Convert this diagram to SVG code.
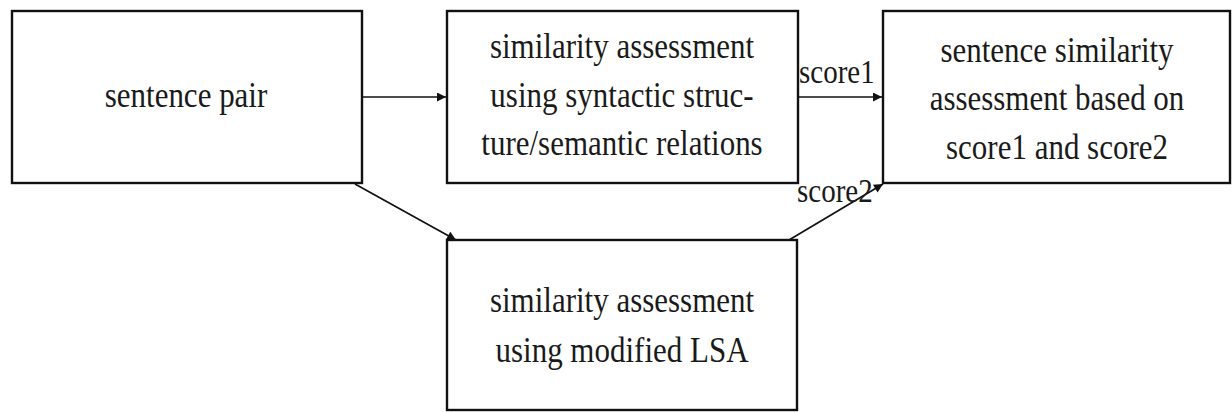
<svg xmlns="http://www.w3.org/2000/svg" width="1232" height="412" viewBox="0 0 1232 412">
  <style>
    .box { fill: #fff; stroke: #111; stroke-width: 2.4; }
    .lbl { font-family: "Liberation Serif", "Times New Roman", serif; font-size: 31px; fill: #1a1a1a; text-anchor: middle; }
    .edge { stroke: #111; stroke-width: 1.7; fill: none; marker-end: url(#arr); }
    .elbl { font-family: "Liberation Serif", "Times New Roman", serif; font-size: 29px; fill: #1a1a1a; }
  </style>
  <defs>
    <marker id="arr" viewBox="0 0 10 10" refX="10" refY="5" markerWidth="10" markerHeight="9" markerUnits="userSpaceOnUse" orient="auto">
      <path d="M0,0 L10,5 L0,10 z" fill="#111"/>
    </marker>
  </defs>
  <rect width="1232" height="412" fill="#fff"/>

  <g id="connectors">
    <line class="edge" x1="362" y1="97" x2="446" y2="97"/>
    <line class="edge" x1="798" y1="97" x2="882" y2="97"/>
    <line class="edge" x1="355" y1="184" x2="456" y2="240"/>
    <line class="edge" x1="789" y1="240" x2="883" y2="184"/>
    <text class="elbl" transform="translate(799 83) scale(1 1.15)">score1</text>
    <text class="elbl" transform="translate(797 202) scale(1 1.15)">score2</text>
  </g>

  <g id="sentence-pair">
    <rect class="box" x="12" y="11" width="350" height="172"/>
    <text class="lbl" transform="translate(186 107) scale(1 1.15)">sentence pair</text>
  </g>

  <g id="syntactic-assessment">
    <rect class="box" x="447" y="11" width="351" height="172"/>
    <text class="lbl" transform="translate(622 58) scale(1 1.15)">similarity assessment</text>
    <text class="lbl" transform="translate(622 107) scale(1 1.15)">using syntactic struc-</text>
    <text class="lbl" transform="translate(622 155) scale(1 1.15)">ture/semantic relations</text>
  </g>

  <g id="final-assessment">
    <rect class="box" x="883" y="11" width="347" height="172"/>
    <text class="lbl" transform="translate(1057 62) scale(1 1.15)">sentence similarity</text>
    <text class="lbl" transform="translate(1057 110) scale(1 1.15)">assessment based on</text>
    <text class="lbl" transform="translate(1057 159) scale(1 1.15)">score1 and score2</text>
  </g>

  <g id="lsa-assessment">
    <rect class="box" x="447" y="240" width="350" height="170"/>
    <text class="lbl" transform="translate(622 312) scale(1 1.15)">similarity assessment</text>
    <text class="lbl" transform="translate(622 362) scale(1 1.15)">using modified LSA</text>
  </g>
</svg>
